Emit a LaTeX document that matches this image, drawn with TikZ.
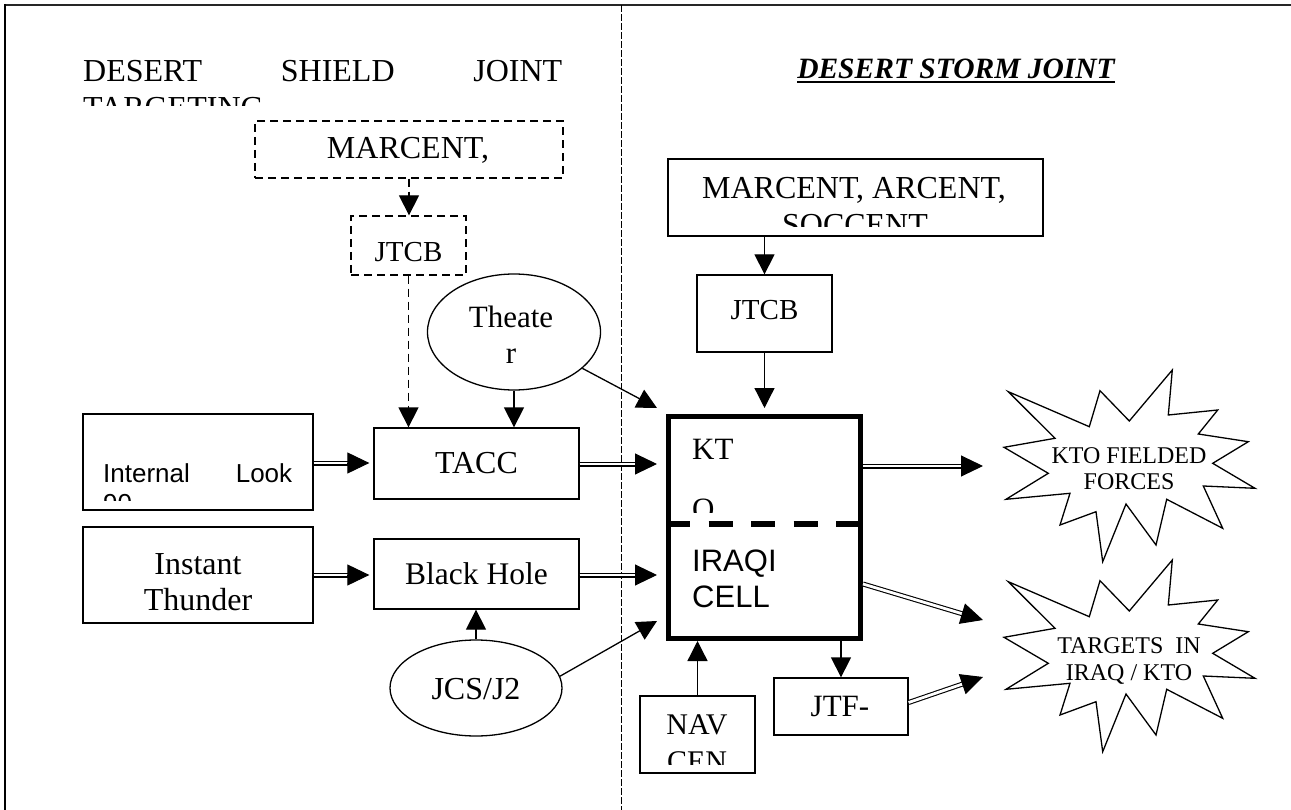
\documentclass[tikz,border=0pt]{standalone}
\usepackage{fontspec}
\setmainfont{Liberation Serif}
\newfontfamily\arialf{Liberation Sans}
\usetikzlibrary{arrows.meta,calc,shapes.geometric}
\newcommand\dblarr[2]{%
  \draw[shaft, shorten >=20pt] (#1) -- (#2);
  \draw[tipa] ($(#2)!22pt!(#1)$) -- (#2);}
\begin{document}
\begin{tikzpicture}[x=1pt,y=-1pt,
  bx/.style={draw, line width=1.3pt, rectangle, inner sep=0pt},
  dbx/.style={bx, dash pattern=on 8pt off 5pt},
  el/.style={draw, line width=1.3pt, ellipse, inner sep=0pt},
  tx/.style={anchor=base, inner sep=0pt, font=\fontsize{32}{38}\selectfont},
  txl/.style={tx, anchor=base west},
  sans/.style={font=\arialf\fontsize{31}{36}\selectfont},
  arr/.style={line width=1.3pt, -{Triangle[length=20pt,width=20pt]}},
  darr/.style={arr, dash pattern=on 8pt off 5pt},
  shaft/.style={double, double distance=2.8pt, line width=1.1pt},
  tipa/.style={line width=1pt, -{Triangle[length=22pt,width=21pt]}},
  starln/.style={line width=1.3pt, line join=miter},
  startx/.style={tx, font=\fontsize{24}{28}\selectfont}]
\useasboundingbox (0,0) rectangle (1291,810);
\fill[white] (0,0) rectangle (1291,810);

% frame and separator
\draw[line width=2pt, black!85] (5,5) -- (1291,5);
\draw[line width=1.5pt] (5,4) -- (5,810);
\draw[line width=1pt, dash pattern=on 7pt off 2pt] (621,5) -- (621,810);

% titles
\node[txl] (t1) at (83,82) {\makebox[479pt][s]{DESERT\hfill SHIELD\hfill JOINT}};
\begin{scope}
  \clip (80,88) rectangle (450,106);
  \node[txl] (t1b) at (83,119) {TARGETING};
\end{scope}
\node[tx, font=\bfseries\itshape\fontsize{29.5}{34}\selectfont] (t2) at (956,79) {DESERT STORM JOINT};
\draw[line width=1.5pt] ($(t2.base west)+(0,3)$) -- ($(t2.base east)+(0,3)$);

% left side boxes
\node[dbx, minimum width=308pt, minimum height=57pt] (mcL) at (409,149.5) {};
\node[tx] (mcLt) at (408,159) {MARCENT,};
\node[dbx, minimum width=115pt, minimum height=59pt] (jtcbL) at (408.5,245.5) {};
\node[tx, font=\fontsize{29}{34}\selectfont] (jtcbLt) at (408.5,262) {JTCB};
\node[el, minimum width=173pt, minimum height=116pt] (th) at (514,332) {};
\node[tx, font=\fontsize{31}{36}\selectfont] (tht1) at (511,328) {Theate};
\node[tx, font=\fontsize{31}{36}\selectfont] (tht2) at (511,363) {r};
\node[bx, minimum width=205pt, minimum height=71pt] (tacc) at (476.5,463.5) {};
\node[tx] (tacct) at (476.5,473) {TACC};
\node[bx, minimum width=230pt, minimum height=96pt] (il) at (198,462) {};
\node[txl, font=\arialf\fontsize{26}{30}\selectfont] (ilt) at (103,482) {\makebox[189pt][s]{Internal\hfill Look}};
\begin{scope}
  \clip (85,485) rectangle (311,500);
  \node[txl, font=\arialf\fontsize{26}{30}\selectfont] (ilt2) at (103,512) {90};
\end{scope}
\node[bx, minimum width=230pt, minimum height=96pt] (it) at (198,575) {};
\node[tx] (itt1) at (198,574) {Instant};
\node[tx] (itt2) at (198,610) {Thunder};
\node[bx, minimum width=205pt, minimum height=70pt] (bh) at (476.5,574) {};
\node[tx, font=\fontsize{31.5}{36}\selectfont] (bht) at (476.5,584) {Black Hole};
\node[el, minimum width=172pt, minimum height=96pt] (jcs) at (476,688) {};
\node[tx] (jcst) at (476,699) {JCS/J2};

% right side boxes
\node[bx, minimum width=375pt, minimum height=77pt] (mcR) at (855.5,197.5) {};
\node[tx] (mcRt) at (854,199) {MARCENT, ARCENT,};
\begin{scope}
  \clip (670,200) rectangle (1041,227);
  \node[tx] (mcRt2) at (855,236) {SOCCENT};
\end{scope}
\node[bx, minimum width=135pt, minimum height=77pt] (jtcbR) at (764.5,313.5) {};
\node[tx, font=\fontsize{29}{34}\selectfont] (jtcbRt) at (764.5,320) {JTCB};

\node[draw, line width=5pt, rectangle, inner sep=0pt, minimum width=192pt, minimum height=222pt] (kto) at (764.5,527.5) {};
\coordinate (dv) at (0,524);
\draw[line width=6pt, dash pattern=on 24pt off 18.5pt] (kto.west |- dv) -- (kto.east |- dv);
\node[txl, font=\fontsize{31}{36}\selectfont] (ktot) at (692,459) {KT};
\begin{scope}
  \clip (671,480) rectangle (858,512);
  \node[txl, font=\fontsize{31}{36}\selectfont] (ktot2) at (692,519) {O};
\end{scope}
\node[txl, sans] (iraq1) at (692,571) {IRAQI};
\node[txl, sans] (iraq2) at (692,607) {CELL};

\node[bx, minimum width=115pt, minimum height=77pt] (nav) at (697.5,734.5) {};
\node[tx, font=\fontsize{30}{36}\selectfont] (navt) at (697,734) {NAV};
\begin{scope}
  \clip (642,740) rectangle (753,764);
  \node[tx, font=\fontsize{30}{36}\selectfont] (navt2) at (697,771) {CEN};
\end{scope}
\node[bx, minimum width=134pt, minimum height=57pt] (jtf) at (841,706.5) {};
\node[tx, font=\fontsize{31}{36}\selectfont] (jtft) at (840,716) {JTF-};

% stars
\coordinate (s1) at (1129,466);
\coordinate (s2) at (1129,656);
\foreach \c in {s1,s2}{
\draw[starln, shift={(\c)}] (-120.7,-74.3) -- (-39.7,-39.3) -- (-29,-75.3) -- (0.3,-45) -- (43.3,-96) -- (39.3,-51) -- (88.7,-56) -- (69.3,-32) -- (119.3,-24.3) -- (83.7,-2.7) -- (126,22.3) -- (74.3,20) -- (93.7,62.3) -- (37.7,33.3) -- (27,79) -- (-3,38) -- (-26.3,95.7) -- (-33,45.7) -- (-69,59) -- (-59,27.3) -- (-123,33.3) -- (-80.7,7.3) -- (-125,-18.7) -- (-74,-27.7) -- cycle;
}
\node[startx] (s1a) at (1129,463) {KTO FIELDED};
\node[startx] (s1b) at (1129,489) {FORCES};
\node[startx] (s2a) at (1129,653) {TARGETS\ \ IN};
\node[startx] (s2b) at (1129,680) {IRAQ / KTO};

% connectors, left
\draw[darr] (mcL.south) -- (mcL.south |- jtcbL.north);
\draw[darr] (jtcbL.south) -- (jtcbL.south |- tacc.north);
\draw[arr] (th.south) -- (th.south |- tacc.north);
\draw[arr] (jcs.north) -- (jcs.north |- bh.south);
\coordinate (ktoA) at (657,408);
\coordinate (ktoB) at (657,621);
\draw[arr] (th) -- (ktoA);
\draw[arr] (jcs.8) -- (ktoB);

\coordinate (ilE) at ($(il.east -| tacc.west)+(-4,1)$);
\coordinate (ilS) at ($(il.east)+(0,1)$);
\dblarr{ilS}{ilE}
\coordinate (itE) at ($(it.east -| bh.west)+(-4,0)$);
\dblarr{it.east}{itE}
\coordinate (taS) at ($(tacc.east)+(0,0.5)$);
\coordinate (taE) at ($(taS -| kto.west)+(-9,0)$);
\dblarr{taS}{taE}
\coordinate (bhS) at ($(bh.east)+(0,1)$);
\coordinate (bhE) at ($(bhS -| kto.west)+(-9,0)$);
\dblarr{bhS}{bhE}

% connectors, right
\draw[arr] (jtcbR.north |- mcR.south) -- (jtcbR.north);
\draw[arr, shorten >=6pt] (jtcbR.south) -- (jtcbR.south |- kto.north);
\draw[arr] (nav.north) -- (nav.north |- kto.south);
\draw[arr] (jtf.north |- kto.south) -- (jtf.north);

\coordinate (k1) at (kto.east |- s1);
\coordinate (s1in) at (983,466);
\dblarr{k1}{s1in}
\coordinate (k2) at ($(kto.east)+(0,56.5)$);
\coordinate (s2in) at (983,620);
\dblarr{k2}{s2in}
\coordinate (j2) at ($(jtf.east)+(0,-4)$);
\coordinate (s2in2) at (983,677);
\dblarr{j2}{s2in2}
\end{tikzpicture}
\end{document}
